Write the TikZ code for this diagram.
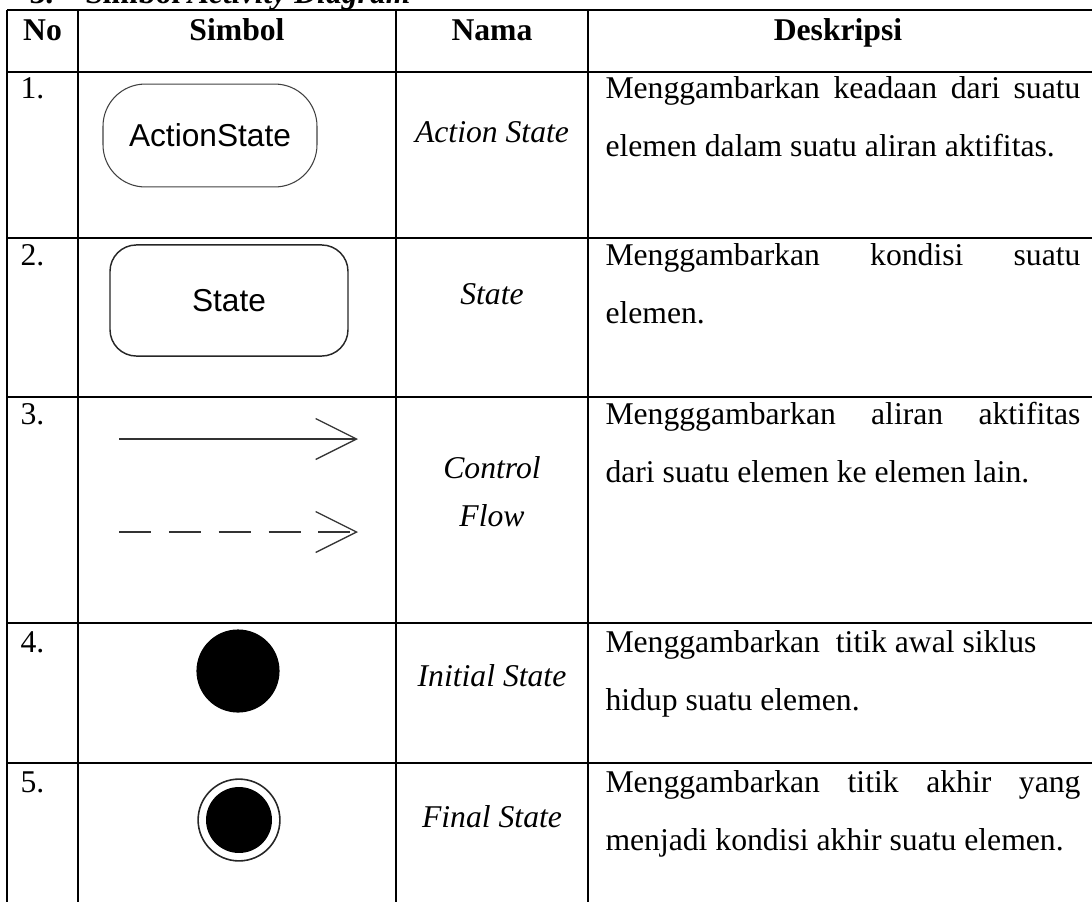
\documentclass[tikz,border=0pt,12pt]{standalone}
\usepackage{fontspec}
\setmainfont{Liberation Serif}
\newfontfamily\symfont{Liberation Sans}
\usetikzlibrary{arrows.meta}

\newcommand{\jline}[1]{\makebox[180pt][s]{#1}}

\tikzset{
  gridline/.style={line width=0.75pt},
  num/.style={inner sep=0pt,anchor=base west},
  desc/.style={inner sep=0pt,anchor=base west},
  head/.style={inner sep=0pt,anchor=base,font=\bfseries},
  nama/.style={inner sep=0pt,font=\itshape},
  flow/.style={draw=black!80,line width=0.5pt,-{Straight Barb[length=15.5pt,width=15.5pt]}},
}

\begin{document}
\begin{tikzpicture}[x=0.379pt,y=-0.379pt]
  \useasboundingbox (0,0) rectangle (1092,902);
  \clip (0,0) rectangle (1092,902);
  \node[inner sep=0pt,anchor=base east,font=\bfseries] (title) at (411,3)
    {3.\quad Simbol \textit{Activity Diagram}};
  % table
  \foreach \y in {10,72,238,397,623,763}
    \draw[gridline] (7,\y) -- (1092,\y);
  \foreach \x in {7,78,396,588}
    \draw[gridline] (\x,10) -- (\x,902);
  \node[head] (hno) at (42.5,40) {No};
  \node[head] (hsim) at (237,40) {Simbol};
  \node[head] (hnama) at (492,40) {Nama};
  \node[head] (hdesk) at (838,40) {Deskripsi};
  % 1
  \node[num] (n1) at (20,98) {1.};
  \node[draw=black!75,line width=0.4pt,rounded corners=16pt,minimum width=81.1pt,
    minimum height=39pt,font=\symfont] (act) at (210,135.5) {ActionState};
  \node[nama] (m1) at (492,132) {Action State};
  \node[desc] (d1a) at (605,98) {\jline{Menggambarkan keadaan dari suatu}};
  \node[desc] (d1b) at (605,156) {elemen dalam suatu aliran aktifitas.};
  % 2
  \node[num] (n2) at (20,265) {2.};
  \node[draw=black!85,line width=0.55pt,rounded corners=10pt,minimum width=90.2pt,
    minimum height=42.1pt,font=\symfont] (st) at (229,300.5) {State};
  \node[nama] (m2) at (492,294) {State};
  \node[desc] (d2a) at (605,265) {\jline{Menggambarkan kondisi suatu}};
  \node[desc] (d2b) at (605,323) {elemen.};
  % 3
  \node[num] (n3) at (20,424) {3.};
  \coordinate (fa) at (119,439);
  \coordinate (fb) at (358,439);
  \coordinate (ga) at (119,532);
  \coordinate (gb) at (358,532);
  \draw[flow] (fa) -- (fb);
  \draw[flow,dash pattern=on 12.1pt off 6.8pt] (ga) -- (gb);
  \node[nama] (m3a) at (492,468) {Control};
  \node[nama] (m3b) at (492,516) {Flow};
  \node[desc] (d3a) at (605,424) {\jline{Mengggambarkan aliran aktifitas}};
  \node[desc] (d3b) at (605,482) {dari suatu elemen ke elemen lain.};
  % 4
  \node[num] (n4) at (20,652) {4.};
  \node[circle,fill=black,minimum size=31.5pt,inner sep=0pt] (ini) at (238,671) {};
  \node[nama] (m4) at (492,676) {Initial State};
  \node[desc] (d4a) at (605,652) {Menggambarkan\ \ titik awal siklus};
  \node[desc] (d4b) at (605,710) {hidup suatu elemen.};
  % 5
  \node[num] (n5) at (20,792) {5.};
  \node[circle,draw=black!85,line width=0.6pt,minimum size=31pt,inner sep=0pt] (fin) at (239,820) {};
  \node[circle,fill=black,minimum size=25pt,inner sep=0pt] (finc) at (fin) {};
  \node[nama] (m5) at (492,817) {Final State};
  \node[desc] (d5a) at (605,792) {\jline{Menggambarkan titik akhir yang}};
  \node[desc] (d5b) at (605,850) {menjadi kondisi akhir suatu elemen.};
\end{tikzpicture}
\end{document}
